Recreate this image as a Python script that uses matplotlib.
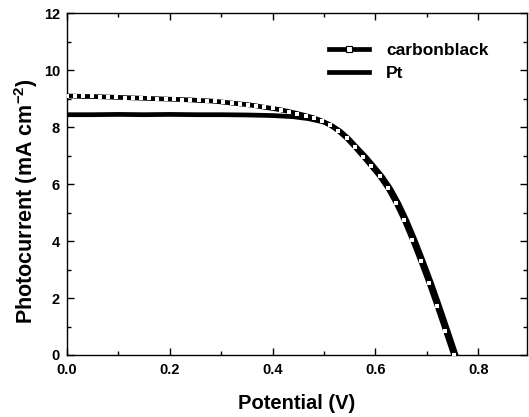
import matplotlib
matplotlib.use("Agg")
import matplotlib.pyplot as plt
from matplotlib.ticker import MultipleLocator, FormatStrFormatter
from matplotlib.lines import Line2D

plt.rcParams['font.family'] = ['Liberation Sans', 'DejaVu Sans']
plt.rcParams['font.weight'] = 'bold'
plt.rcParams['mathtext.fontset'] = 'custom'
plt.rcParams['mathtext.rm'] = 'Liberation Sans:bold'
plt.rcParams['mathtext.bf'] = 'Liberation Sans:bold'

cb_v = [0.000, 0.016, 0.032, 0.048, 0.064, 0.080, 0.096, 0.112, 0.128, 0.144,
        0.160, 0.176, 0.192, 0.208, 0.224, 0.240, 0.256, 0.272, 0.288, 0.304,
        0.320, 0.336, 0.352, 0.368, 0.384, 0.400, 0.416, 0.432, 0.448, 0.464,
        0.480, 0.496, 0.512, 0.528, 0.544, 0.560, 0.576, 0.592, 0.608, 0.624,
        0.640, 0.656, 0.672, 0.688, 0.704, 0.720, 0.736, 0.752]
cb_j = [9.10, 9.09, 9.08, 9.08, 9.07, 9.06, 9.05, 9.04, 9.03, 9.02,
        9.01, 9.00, 8.99, 8.98, 8.97, 8.96, 8.94, 8.93, 8.91, 8.88,
        8.85, 8.82, 8.79, 8.75, 8.70, 8.66, 8.61, 8.55, 8.48, 8.41,
        8.33, 8.22, 8.07, 7.87, 7.61, 7.30, 6.97, 6.63, 6.28, 5.86,
        5.34, 4.73, 4.04, 3.30, 2.53, 1.71, 0.86, 0.00]

pt_v = [0.00, 0.05, 0.10, 0.15, 0.20, 0.25, 0.30, 0.35, 0.40, 0.44, 0.47,
        0.500, 0.516, 0.532, 0.548, 0.564, 0.581, 0.597, 0.613, 0.629, 0.645,
        0.661, 0.677, 0.693, 0.709, 0.725, 0.741, 0.757]
pt_j = [8.44, 8.44, 8.45, 8.44, 8.45, 8.44, 8.44, 8.43, 8.41, 8.37, 8.30,
        8.18, 8.05, 7.86, 7.60, 7.29, 6.97, 6.63, 6.28, 5.86, 5.34,
        4.73, 4.04, 3.30, 2.53, 1.71, 0.86, 0.00]

fig = plt.figure(figsize=(5.29, 4.17), dpi=100)
ax = fig.add_axes([0.1267, 0.1487, 0.8696, 0.8193])

ax.plot(pt_v, pt_j, color='black', lw=3.4, label='Pt', zorder=2)
ax.plot(cb_v, cb_j, color='black', lw=3.4, marker='s', markersize=2.4,
        markerfacecolor='white', markeredgecolor='white', markeredgewidth=0,
        label='carbonblack', zorder=3)

ax.set_xlim(0, 0.895)
ax.set_ylim(0, 12)
ax.xaxis.set_major_locator(MultipleLocator(0.2))
ax.xaxis.set_minor_locator(MultipleLocator(0.1))
ax.yaxis.set_major_locator(MultipleLocator(2))
ax.yaxis.set_minor_locator(MultipleLocator(1))
ax.tick_params(which='both', direction='in', top=True, right=True, width=1.0)
ax.tick_params(which='major', length=5, labelsize=10.5)
ax.tick_params(axis='x', which='major', pad=6)
ax.tick_params(axis='y', which='major', pad=5)
ax.tick_params(which='minor', length=3)
ax.xaxis.set_major_formatter(FormatStrFormatter('%.1f'))
for s in ax.spines.values():
    s.set_linewidth(1.0)

ax.set_xlabel('Potential (V)', fontsize=14.5, fontweight='bold', labelpad=12)
ax.set_ylabel(r'Photocurrent (mA cm$^{-2}$)', fontsize=15.5, fontweight='bold')
ax.yaxis.set_label_coords(-0.058, 0.45)

h_cb = Line2D([], [], color='black', lw=3.4, marker='s', markersize=4.5,
              markerfacecolor='white', markeredgecolor='black', markeredgewidth=0.8)
h_pt = Line2D([], [], color='black', lw=3.4)
ax.legend([h_cb, h_pt], ['carbonblack', 'Pt'], loc='upper right',
          bbox_to_anchor=(0.95, 0.96), frameon=False, fontsize=12.5,
          handlelength=2.3, handletextpad=1.0, labelspacing=0.45)

fig.savefig('out.png', dpi=100)
